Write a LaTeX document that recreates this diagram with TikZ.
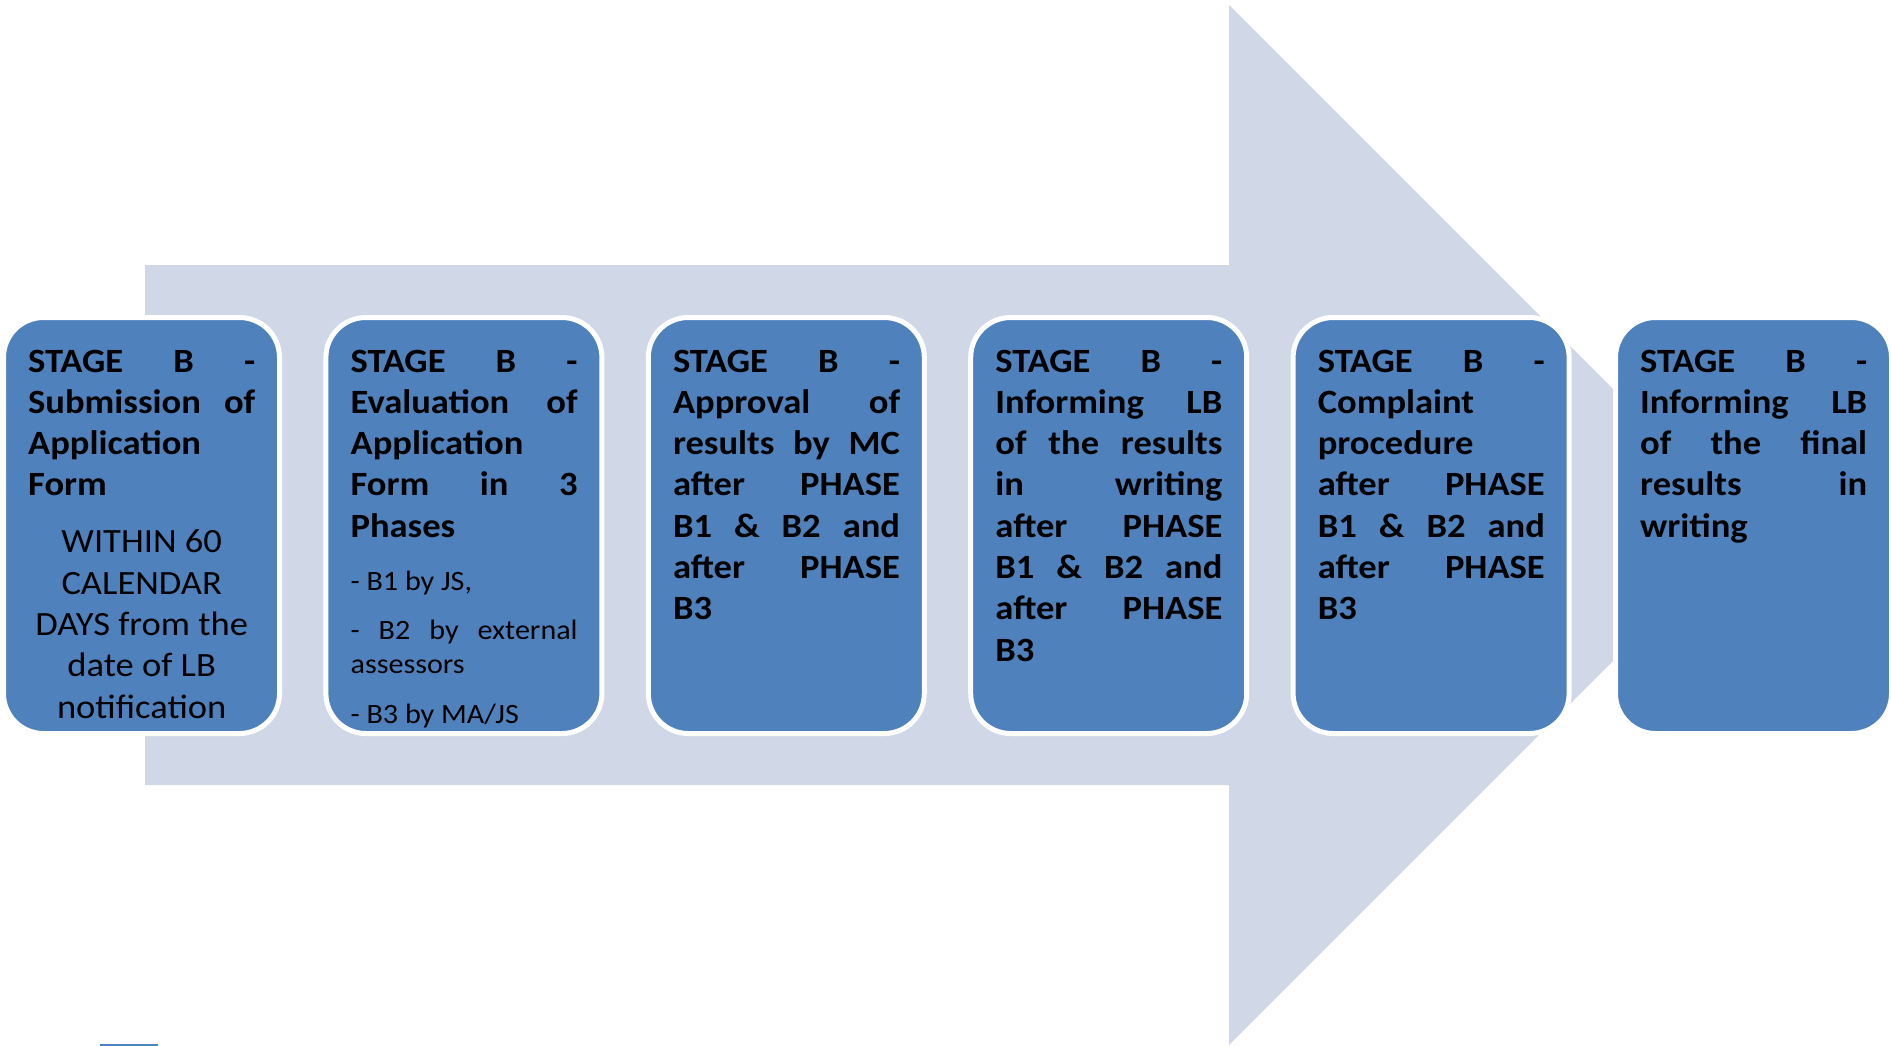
\documentclass[tikz,border=0pt]{standalone}
\usepackage{fontspec}
\setmainfont{Carlito}[FakeStretch=1.075]
\definecolor{boxblue}{HTML}{4F81BD}
\definecolor{arrowfill}{HTML}{D0D8E8}
\newcommand{\boxsetup}{\hyphenpenalty=10000\exhyphenpenalty=10000\tolerance=10000\hbadness=10000\hfuzz=20pt\fontsize{34}{41.3}\selectfont\bfseries}
\newcommand{\subsize}{\mdseries\fontsize{28}{34}\selectfont}
\tikzset{
  stagebox/.style={draw=white, line width=5pt, fill=boxblue, rounded corners=40pt,
    minimum width=276pt, minimum height=416pt, inner sep=0pt},
  stagetext/.style={anchor=base west, text width=227pt, inner sep=0pt, align=justify, font=\boxsetup},
}
\begin{document}
\begin{tikzpicture}[x=1pt,y=-1pt]
\useasboundingbox (0,0) rectangle (1891,1046);
% big background arrow
\fill[arrowfill] (145,265) -- (1229,265) -- (1229,5) -- (1749,525) -- (1229,1045)
  -- (1229,785) -- (145,785) -- cycle;
\fill[boxblue] (100,1043.5) rectangle (158,1046);
% boxes
\node[stagebox] (b1) at (141.5,525.5) {};
\node[stagebox] (b2) at (463.9,525.5) {};
\node[stagebox] (b3) at (786.3,525.5) {};
\node[stagebox] (b4) at (1108.7,525.5) {};
\node[stagebox] (b5) at (1431.1,525.5) {};
\node[stagebox] (b6) at (1753.5,525.5) {};
% texts
\node[stagetext] (t1) at (28,372) {\parindent=0pt STAGE B -\linebreak Submission of\linebreak Application\linebreak Form\par
\vspace{15.7pt}{\centering\mdseries WITHIN 60\\ CALENDAR\\ DAYS from the\\ date of LB\\ notification\par}};
\node[stagetext] (t2) at (350.4,372) {\parindent=0pt STAGE B -\linebreak Evaluation of\linebreak Application\linebreak Form in 3\linebreak Phases\par
\vspace{19pt}{\subsize - B1 by JS,\par\vspace{15pt}- B2 by external\linebreak assessors\par\vspace{16pt}- B3 by MA/JS\par}};
\node[stagetext] (t3) at (672.8,372) {\parindent=0pt STAGE B -\linebreak Approval of\linebreak results by MC\linebreak after PHASE\linebreak B1 \& B2 and\linebreak after PHASE\linebreak B3\par};
\node[stagetext] (t4) at (995.2,372) {\parindent=0pt STAGE B -\linebreak Informing LB\linebreak of the results\linebreak in writing\linebreak after PHASE\linebreak B1 \& B2 and\linebreak after PHASE\linebreak B3\par};
\node[stagetext] (t5) at (1317.6,372) {\parindent=0pt STAGE B -\linebreak Complaint\linebreak procedure\linebreak after PHASE\linebreak B1 \& B2 and\linebreak after PHASE\linebreak B3\par};
\node[stagetext] (t6) at (1640,372) {\parindent=0pt STAGE B -\linebreak Informing LB\linebreak of the final\linebreak results in\linebreak writing\par};
\end{tikzpicture}
\end{document}
